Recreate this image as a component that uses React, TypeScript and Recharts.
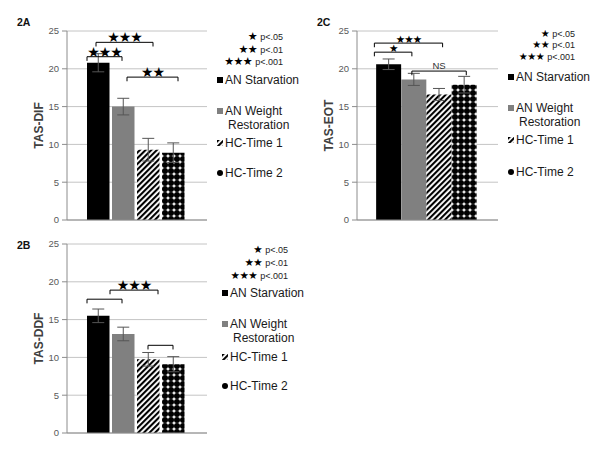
import React from 'react';
import { BarChart, Bar, XAxis, YAxis, CartesianGrid, ErrorBar, Cell, ReferenceLine } from 'recharts';

// ---------- data ----------
const categories = ['AN Starvation', 'AN Weight Restoration', 'HC-Time 1', 'HC-Time 2'];
const categoryPositions = [0, 1, 2, 3];
const yTicks = [0, 5, 10, 15, 20, 25];
const significanceStars = ['★', '★★', '★★★'];
const significanceLabels = ['p<.05', 'p<.01', 'p<.001'];

const tasDifMeans = [20.8, 15.0, 9.3, 8.9];
const tasDifErrors = [1.2, 1.1, 1.5, 1.3];
const tasDdfMeans = [15.5, 13.1, 9.75, 9.1];
const tasDdfErrors = [0.9, 0.9, 0.9, 1.0];
const tasEotMeans = [20.6, 18.6, 16.6, 17.9];
const tasEotErrors = [0.7, 0.8, 0.8, 1.1];

// brackets in data coordinates (x = category position, y = value)
const tasDifBrackets = [
  { from: -0.46, to: 0.94, y: 21.6, label: '★★★' },
  { from: -0.1, to: 2.18, y: 23.5, label: '★★★' },
  { from: 1.14, to: 3.18, y: 18.9, label: '★★' },
];
const tasDdfBrackets = [
  { from: -0.46, to: 0.94, y: 17.7, label: '' },
  { from: 0.46, to: 2.38, y: 18.9, label: '★★★' },
  { from: 1.98, to: 2.98, y: 11.6, label: '' },
];
const tasEotBrackets = [
  { from: -0.57, to: 0.92, y: 22.2, label: '★' },
  { from: -0.57, to: 2.14, y: 23.4, label: '★★★' },
  { from: 0.92, to: 3.08, y: 19.7, label: 'NS' },
];

// ---------- styles ----------
const barFills = ['#000000', '#808080', 'url(#hatchPattern)', 'url(#dotPattern)'];
const SANS = '"Liberation Sans", Arial, sans-serif';
const STAR_FONT = '"DejaVu Sans", sans-serif';
const AXIS_GRAY = '#8c8c8c';

type Bracket = { from: number; to: number; y: number; label: string };

function buildRows(means: number[], errs: number[]) {
  return categories.map((name, i) => ({ name, pos: categoryPositions[i], mean: means[i], err: errs[i] }));
}

function bracketLines(brackets: Bracket[], drop: number, starSize: number, prefix: string) {
  const out: React.ReactNode[] = [];
  brackets.forEach((b, i) => {
    const isText = b.label === 'NS';
    out.push(
      <ReferenceLine
        key={`${prefix}-h-${i}`}
        segment={[{ x: b.from, y: b.y }, { x: b.to, y: b.y }]}
        stroke="#000"
        strokeWidth={1}
        ifOverflow="visible"
        label={
          b.label
            ? {
                value: b.label,
                position: 'top',
                offset: isText ? 2 : 0,
                fontSize: isText ? 9.5 : starSize,
                fill: isText ? '#333' : '#000',
                fontFamily: isText ? SANS : STAR_FONT,
                letterSpacing: isText ? 0 : -1,
              }
            : undefined
        }
      />
    );
    out.push(
      <ReferenceLine
        key={`${prefix}-l-${i}`}
        segment={[{ x: b.from, y: b.y }, { x: b.from, y: b.y - drop }]}
        stroke="#000"
        strokeWidth={1}
        ifOverflow="visible"
      />
    );
    out.push(
      <ReferenceLine
        key={`${prefix}-r-${i}`}
        segment={[{ x: b.to, y: b.y }, { x: b.to, y: b.y - drop }]}
        stroke="#000"
        strokeWidth={1}
        ifOverflow="visible"
      />
    );
  });
  return out;
}

function Panel(props: {
  left: number;
  top: number;
  plotWidth: number;
  yLabel: string;
  means: number[];
  errs: number[];
  brackets: Bracket[];
  starSize: number;
  id: string;
}) {
  const { left, top, plotWidth, yLabel, means, errs, brackets, starSize, id } = props;
  const data = buildRows(means, errs);
  const width = 67 + plotWidth + 8;
  return (
    <div style={{ position: 'absolute', left, top }}>
      <BarChart width={width} height={225} data={data} margin={{ top: 31, right: 8, bottom: 0, left: 0 }}>
        <CartesianGrid vertical={false} stroke="#c4c4c4" />
        <XAxis
          dataKey="pos"
          type="number"
          domain={[-1.26, 4.34]}
          allowDataOverflow
          tick={false}
          tickLine={false}
          height={5}
          axisLine={{ stroke: AXIS_GRAY }}
        />
        <YAxis
          type="number"
          domain={[0, 25]}
          ticks={yTicks}
          interval={0}
          width={67}
          tickSize={5}
          tickMargin={3}
          axisLine={{ stroke: AXIS_GRAY }}
          tickLine={{ stroke: AXIS_GRAY }}
          tick={{ fontSize: 9.5, fill: '#595959', fontFamily: SANS }}
          label={{
            value: yLabel,
            angle: -90,
            position: 'insideLeft',
            offset: 39,
            style: { textAnchor: 'middle', fontWeight: 'bold', fontSize: 12, fill: '#404040', fontFamily: SANS },
          }}
        />
        <Bar dataKey="mean" barSize={25} isAnimationActive={false}>
          {data.map((_, i) => (
            <Cell key={`${id}-c-${i}`} fill={barFills[i]} />
          ))}
          <ErrorBar dataKey="err" width={6} stroke="#555" strokeWidth={1} direction="y" isAnimationActive={false} />
        </Bar>
        {bracketLines(brackets, 0.55, starSize, id)}
      </BarChart>
    </div>
  );
}

function LegendIcon({ index }: { index: number }) {
  return (
    <svg width={6} height={6} style={{ display: 'block' }}>
      <rect x={0} y={0} width={6} height={6} fill={barFills[index]} />
    </svg>
  );
}

function PanelLegend(props: {
  iconX: number;
  textX: number;
  itemYs: number[];
  starRight: number;
  starYs: number[];
  starFont: number;
}) {
  const { iconX, textX, itemYs, starRight, starYs, starFont } = props;
  const nodes: React.ReactNode[] = [];
  significanceStars.forEach((s, i) => {
    nodes.push(
      <div
        key={`s-${i}`}
        style={{
          position: 'absolute',
          right: 600 - starRight,
          top: starYs[i] - 5,
          height: 10,
          lineHeight: '10px',
          whiteSpace: 'nowrap',
          color: '#000',
        }}
      >
        <span style={{ fontFamily: STAR_FONT, fontSize: starFont, letterSpacing: -0.5 }}>{s}</span>
        <span style={{ fontFamily: SANS, fontSize: 9, marginLeft: 3, color: '#222' }}>{significanceLabels[i]}</span>
      </div>
    );
  });
  categories.forEach((c, i) => {
    const two = c === 'AN Weight Restoration';
    const lines = two ? ['AN Weight', 'Restoration'] : [c];
    const y = itemYs[i];
    nodes.push(
      <div key={`i-${i}`} style={{ position: 'absolute', left: iconX, top: y - 3 }}>
        <LegendIcon index={i} />
      </div>
    );
    lines.forEach((t, j) => {
      nodes.push(
        <div
          key={`t-${i}-${j}`}
          style={{
            position: 'absolute',
            left: textX + (j > 0 ? 3 : 0),
            top: y - 7 + j * 14,
            height: 14,
            lineHeight: '14px',
            fontFamily: SANS,
            fontSize: 12,
            color: '#1a1a1a',
            whiteSpace: 'nowrap',
          }}
        >
          {t}
        </div>
      );
    });
  });
  return <>{nodes}</>;
}

function PanelTitle({ text, left, top }: { text: string; left: number; top: number }) {
  return (
    <div
      style={{
        position: 'absolute',
        left,
        top,
        fontFamily: SANS,
        fontWeight: 'bold',
        fontSize: 10.5,
        lineHeight: '12px',
        color: '#111',
      }}
    >
      {text}
    </div>
  );
}

export default function App() {
  return (
    <div
      style={{
        position: 'absolute',
        left: 0,
        top: 0,
        width: 600,
        height: 456,
        background: '#fff',
        overflow: 'hidden',
      }}
    >
      <svg width={0} height={0} style={{ position: 'absolute' }}>
        <defs>
          <pattern id="hatchPattern" patternUnits="userSpaceOnUse" width={4} height={4} patternTransform="rotate(45)">
            <rect x={0} y={0} width={4} height={4} fill="#fff" />
            <rect x={0} y={0} width={2.1} height={4} fill="#000" />
          </pattern>
          <pattern id="dotPattern" patternUnits="userSpaceOnUse" width={6} height={6}>
            <rect x={0} y={0} width={6} height={6} fill="#fff" />
            <circle cx={3} cy={3} r={3.0} fill="#000" />
          </pattern>
        </defs>
      </svg>

      <PanelTitle text="2A" left={17} top={16} />
      <Panel
        id="dif"
        left={0}
        top={0}
        plotWidth={140}
        yLabel="TAS-DIF"
        means={tasDifMeans}
        errs={tasDifErrors}
        brackets={tasDifBrackets}
        starSize={14}
      />
      <PanelLegend iconX={217} textX={225} itemYs={[80, 111, 143, 173]} starRight={283} starYs={[35, 47.5, 60]} starFont={11} />

      <PanelTitle text="2B" left={17} top={239} />
      <Panel
        id="ddf"
        left={0}
        top={213}
        plotWidth={140}
        yLabel="TAS-DDF"
        means={tasDdfMeans}
        errs={tasDdfErrors}
        brackets={tasDdfBrackets}
        starSize={14}
      />
      <PanelLegend iconX={222} textX={230} itemYs={[293, 324, 357, 386]} starRight={288} starYs={[248, 261, 273.5]} starFont={10.5} />

      <PanelTitle text="2C" left={317} top={16} />
      <Panel
        id="eot"
        left={290}
        top={0}
        plotWidth={141}
        yLabel="TAS-EOT"
        means={tasEotMeans}
        errs={tasEotErrors}
        brackets={tasEotBrackets}
        starSize={10.5}
      />
      <PanelLegend iconX={508} textX={516} itemYs={[77, 108, 140, 172]} starRight={575} starYs={[31.5, 43, 54.5]} starFont={10} />
    </div>
  );
}
